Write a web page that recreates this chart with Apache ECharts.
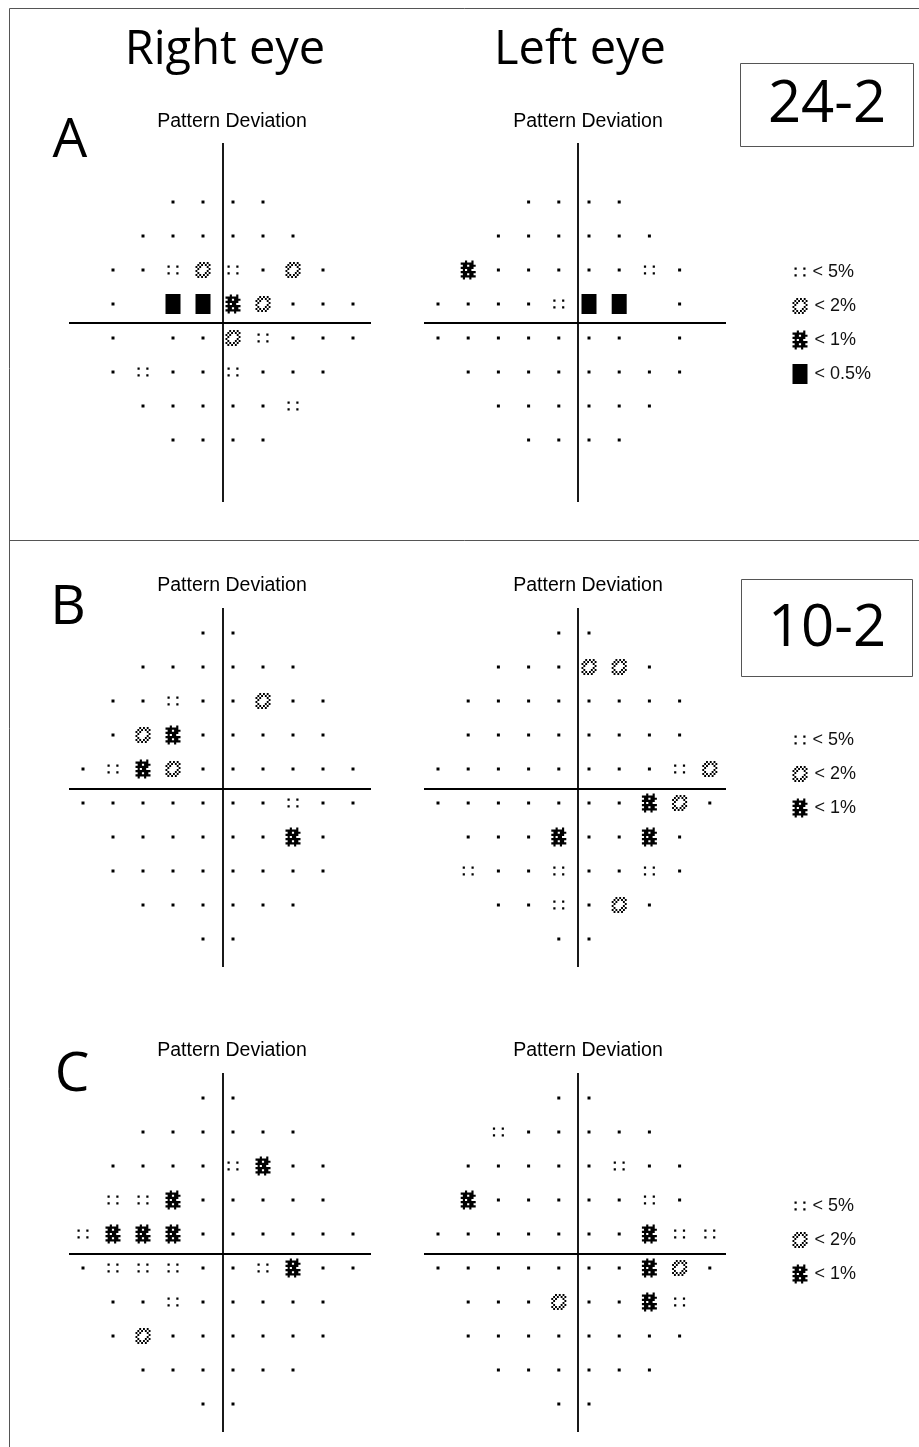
<!DOCTYPE html>
<html>
<head>
<meta charset="utf-8">
<script src="https://cdn.jsdelivr.net/npm/echarts@6/dist/echarts.min.js"></script>
<style>
  html, body { margin: 0; padding: 0; background: #fff; }
  #chart { width: 919px; height: 1447px; }
</style>
</head>
<body>
<div id="chart"></div>
<script>
// pattern deviation maps, one string per row of test points
// '.' normal, '5' p<5%, '2' p<2%, '1' p<1%, '0' p<0.5%, ' ' no test point
const A_RIGHT = [
  '  ....   ',
  ' ......  ',
  '..525.2. ',
  '. 0012...',
  '. ..25...',
  '.5..5... ',
  ' .....5  ',
  '  ....   '
]
const A_LEFT = [
  '   ....  ',
  '  ...... ',
  ' 1.....5.',
  '....500 .',
  '....... .',
  ' ........',
  '  ...... ',
  '   ....  '
]
const B_RIGHT = [
  '    ..    ',
  '  ......  ',
  ' ..5..2.. ',
  ' .21..... ',
  '.512......',
  '.......5..',
  ' ......1. ',
  ' ........ ',
  '  ......  ',
  '    ..    '
]
const B_LEFT = [
  '    ..    ',
  '  ...22.  ',
  ' ........ ',
  ' ........ ',
  '........52',
  '.......12.',
  ' ...1..1. ',
  ' 5..5..5. ',
  '  ..5.2.  ',
  '    ..    '
]
const C_RIGHT = [
  '    ..    ',
  '  ......  ',
  ' ....51.. ',
  ' 551..... ',
  '5111......',
  '.555..51..',
  ' ..5..... ',
  ' .2...... ',
  '  ......  ',
  '    ..    '
]
const C_LEFT = [
  '    ..    ',
  '  5.....  ',
  ' .....5.. ',
  ' 1.....5. ',
  '.......155',
  '.......12.',
  ' ...2..15 ',
  ' ........ ',
  '  ......  ',
  '    ..    '
]

const LEGEND_CODES_24 = ['5', '2', '1', '0']
const LEGEND_LABELS_24 = ['< 5%', '< 2%', '< 1%', '< 0.5%']
const LEGEND_CODES_10 = ['5', '2', '1']
const LEGEND_LABELS_10 = ['< 5%', '< 2%', '< 1%']

// printer glyphs as little bitmaps
const bitmapPath = rows => {
  let d = ''
  rows.forEach((row, y) => {
    for (let x = 0; x < row.length; x++) {
      if (row[x] === 'X') d += `M${x} ${y}h1v1h-1z`
    }
  })
  return 'path://' + d
}

const GLYPHS = {
  '.': { symbol: 'rect', size: [3, 3] },
  '5': { symbol: bitmapPath(['X...X', '.....', '.....', 'X...X']), size: [11, 9] },
  '2': {
    symbol: bitmapPath([
      '..X.X.X.',
      '.X.X.X.X',
      'X.X...X.',
      '.X.....X',
      'X.....X.',
      '.X...X.X',
      'X.X.X.X.',
      '.X.X.X..'
    ]),
    size: [15, 16]
  },
  '1': {
    symbol: bitmapPath([
      '..X..X.',
      'XXXXXX.',
      '.XX.XXX',
      'XXXXXX.',
      '.X.XX..',
      'XXXXXXX',
      '.XX.XX.',
      'XXXXXXX',
      '.X..X..'
    ]),
    size: [15, 19]
  },
  '0': { symbol: 'rect', size: [15, 20] }
}

// panel layout in px: grid box = extent of the cross lines
const panels = [
  { rows: A_RIGHT, left: 69, top: 143, width: 302, height: 359, x0: 113, y0: 202, cx: 223, cy: 323, sx: 30, sy: 34 },
  { rows: A_LEFT, left: 424, top: 143, width: 302, height: 359, x0: 438, y0: 202, cx: 578, cy: 323, sx: 30.2, sy: 34 },
  { rows: B_RIGHT, left: 69, top: 608, width: 302, height: 359, x0: 83, y0: 633, cx: 223, cy: 789, sx: 30, sy: 34 },
  { rows: B_LEFT, left: 424, top: 608, width: 302, height: 359, x0: 438, y0: 633, cx: 578, cy: 789, sx: 30.2, sy: 34 },
  { rows: C_RIGHT, left: 69, top: 1073, width: 302, height: 359, x0: 83, y0: 1098, cx: 223, cy: 1254, sx: 30, sy: 34 },
  { rows: C_LEFT, left: 424, top: 1073, width: 302, height: 359, x0: 438, y0: 1098, cx: 578, cy: 1254, sx: 30.2, sy: 34 }
]

const legends = [
  { codes: LEGEND_CODES_24, labels: LEGEND_LABELS_24, top: 255 },
  { codes: LEGEND_CODES_10, labels: LEGEND_LABELS_10, top: 723 },
  { codes: LEGEND_CODES_10, labels: LEGEND_LABELS_10, top: 1189 }
]

const grid = []
const xAxis = []
const yAxis = []
const series = []

panels.forEach((p, i) => {
  grid.push({ left: p.left, top: p.top, width: p.width, height: p.height })
  xAxis.push({
    type: 'value', gridIndex: i, show: false,
    min: (p.left - p.x0) / p.sx, max: (p.left + p.width - p.x0) / p.sx
  })
  yAxis.push({
    type: 'value', gridIndex: i, show: false, inverse: true,
    min: (p.top - p.y0) / p.sy, max: (p.top + p.height - p.y0) / p.sy
  })
  const data = []
  p.rows.forEach((row, r) => {
    for (let c = 0; c < row.length; c++) {
      const g = GLYPHS[row[c]]
      if (g) data.push({ value: [c, r], symbol: g.symbol, symbolSize: g.size })
    }
  })
  series.push({
    type: 'scatter',
    xAxisIndex: i,
    yAxisIndex: i,
    clip: false,
    data,
    itemStyle: { color: '#000', opacity: 1 },
    emphasis: { disabled: true },
    markLine: {
      silent: true,
      symbol: ['none', 'none'],
      label: { show: false },
      lineStyle: { color: '#000', width: 1.8, type: 'solid' },
      data: [{ xAxis: (p.cx - p.x0) / p.sx }, { yAxis: (p.cy - p.y0) / p.sy }]
    }
  })
})

legends.forEach(lg => {
  const i = grid.length
  grid.push({ left: 790, top: lg.top, width: 20, height: lg.codes.length * 34 })
  xAxis.push({ type: 'value', gridIndex: i, show: false, min: -0.5, max: 0.5 })
  yAxis.push({ type: 'category', gridIndex: i, show: false, inverse: true, data: lg.labels })
  series.push({
    type: 'scatter',
    xAxisIndex: i,
    yAxisIndex: i,
    clip: false,
    data: lg.codes.map((code, k) => ({
      value: [0, k],
      symbol: GLYPHS[code].symbol,
      symbolSize: GLYPHS[code].size
    })),
    itemStyle: { color: '#000', opacity: 1 },
    emphasis: { disabled: true },
    label: {
      show: true,
      position: 'right',
      distance: 7,
      formatter: prm => lg.labels[prm.dataIndex],
      fontFamily: 'Liberation Sans',
      fontSize: 18,
      color: '#111'
    }
  })
})

const txt = (text, x, y, family, size) => ({
  text, left: x, top: y, padding: 0,
  textAlign: 'center', textVerticalAlign: 'middle',
  textStyle: { fontFamily: family, fontSize: size, fontWeight: 'normal', color: '#000' }
})

const title = [
  txt('Right eye', 225, 51, 'Open Sans', 47),
  txt('Left eye', 580, 51, 'Open Sans', 47),
  txt('A', 70, 141, 'Open Sans', 55),
  txt('B', 68, 608, 'Open Sans', 55),
  txt('C', 72, 1075, 'Open Sans', 55),
  txt('24-2', 827, 105, 'Open Sans', 58),
  txt('10-2', 827, 629, 'Open Sans', 58),
  txt('Pattern Deviation', 232, 122, 'Liberation Sans', 19.5),
  txt('Pattern Deviation', 588, 122, 'Liberation Sans', 19.5),
  txt('Pattern Deviation', 232, 586, 'Liberation Sans', 19.5),
  txt('Pattern Deviation', 588, 586, 'Liberation Sans', 19.5),
  txt('Pattern Deviation', 232, 1051, 'Liberation Sans', 19.5),
  txt('Pattern Deviation', 588, 1051, 'Liberation Sans', 19.5)
]

const frame = { fill: 'none', stroke: '#555', lineWidth: 1 }
const graphic = [
  { type: 'rect', silent: true, shape: { x: 9.5, y: 8.5, width: 1000, height: 1500 }, style: frame },
  { type: 'line', silent: true, shape: { x1: 9.5, y1: 540.5, x2: 919, y2: 540.5 }, style: frame },
  { type: 'rect', silent: true, shape: { x: 740.5, y: 63.5, width: 173, height: 83 }, style: frame },
  { type: 'rect', silent: true, shape: { x: 741.5, y: 579.5, width: 171, height: 97 }, style: frame }
]

const chart = echarts.init(document.getElementById('chart'), null, { renderer: 'canvas' })
chart.setOption({
  animation: false,
  backgroundColor: '#fff',
  title,
  graphic,
  grid,
  xAxis,
  yAxis,
  series
})
</script>
</body>
</html>
